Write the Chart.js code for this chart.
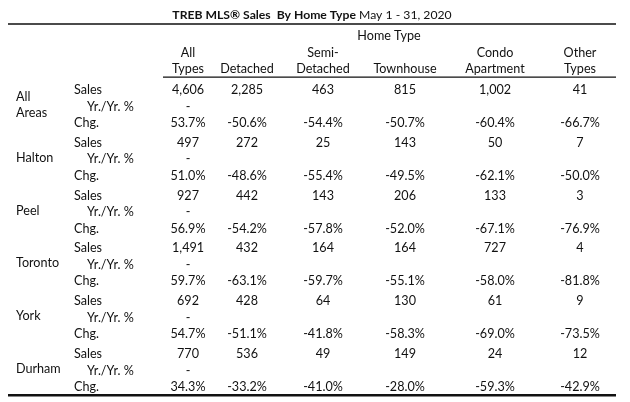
<!DOCTYPE html>
<html>
<head>
<meta charset="utf-8">
<script src="https://cdn.jsdelivr.net/npm/chart.js@4.4.0/dist/chart.umd.min.js"></script>
<style>
  html, body { margin: 0; padding: 0; background: #fff; }
  #wrap { width: 630px; height: 402px; }
</style>
</head>
<body>
<div id="wrap"><canvas id="myChart"></canvas></div>
<script>
// Table data
const regions = ["All Areas", "Halton", "Peel", "Toronto", "York", "Durham"];
const homeTypes = ["All Types", "Detached", "Semi-Detached", "Townhouse", "Condo Apartment", "Other Types"];
const headerTop = ["All", "", "Semi-", "", "Condo", "Other"];
const headerBottom = ["Types", "Detached", "Detached", "Townhouse", "Apartment", "Types"];
const rowLabels = ["Sales", "Yr./Yr. %", "Chg."];

const salesAllAreas = [4606, 2285, 463, 815, 1002, 41];
const salesHalton = [497, 272, 25, 143, 50, 7];
const salesPeel = [927, 442, 143, 206, 133, 3];
const salesToronto = [1491, 432, 164, 164, 727, 4];
const salesYork = [692, 428, 64, 130, 61, 9];
const salesDurham = [770, 536, 49, 149, 24, 12];

const chgAllAreas = [-53.7, -50.6, -54.4, -50.7, -60.4, -66.7];
const chgHalton = [-51.0, -48.6, -55.4, -49.5, -62.1, -50.0];
const chgPeel = [-56.9, -54.2, -57.8, -52.0, -67.1, -76.9];
const chgToronto = [-59.7, -63.1, -59.7, -55.1, -58.0, -81.8];
const chgYork = [-54.7, -51.1, -41.8, -58.3, -69.0, -73.5];
const chgDurham = [-34.3, -33.2, -41.0, -28.0, -59.3, -42.9];

const salesByRegion = [salesAllAreas, salesHalton, salesPeel, salesToronto, salesYork, salesDurham];
const chgByRegion = [chgAllAreas, chgHalton, chgPeel, chgToronto, chgYork, chgDurham];

// Layout (column centres in x units, row slots in y units)
const colX = [188, 247, 323, 405, 495, 580];
const regionStep = 3.2;
const FONT = "Lato, 'Open Sans', sans-serif";
const BODY_SIZE = "12.6px ";
const TITLE_SIZE = "12.2px ";
const INK = "#111";

function rowY(region, sub) {
  return region * regionStep + sub;
}

// Build the cell points from the arrays
const salesPoints = [];
const chgPoints = [];
const signPoints = [];
salesByRegion.forEach((vals, r) => {
  vals.forEach((v, c) => {
    salesPoints.push({ x: colX[c], y: rowY(r, 0), text: v.toLocaleString("en-US") });
  });
});
chgByRegion.forEach((vals, r) => {
  vals.forEach((v, c) => {
    if (c === 0) {
      // the minus sign wraps onto the Yr./Yr. line in the All Types column
      signPoints.push({ x: colX[c], y: rowY(r, 1), text: v < 0 ? "-" : "" });
      chgPoints.push({ x: colX[c], y: rowY(r, 2), text: Math.abs(v).toFixed(1) + "%" });
    } else {
      chgPoints.push({ x: colX[c], y: rowY(r, 2), text: v.toFixed(1) + "%" });
    }
  });
});

const tablePlugin = {
  id: "table_text",
  afterDatasetsDraw(chart) {
    const { ctx, scales } = chart;
    const X = (v) => scales.x.getPixelForValue(v);
    const Y = (v) => scales.y.getPixelForValue(v);
    ctx.save();
    ctx.fillStyle = INK;
    ctx.textBaseline = "middle";

    // cell values
    ctx.font = BODY_SIZE + FONT;
    ctx.textAlign = "center";
    chart.data.datasets.forEach((ds, i) => {
      const meta = chart.getDatasetMeta(i);
      meta.data.forEach((pt, j) => {
        ctx.fillText(ds.data[j].text, pt.x, pt.y);
      });
    });

    // headers
    ctx.fillText("Home Type", X(389), Y(-3.25));
    headerTop.forEach((t, c) => ctx.fillText(t, X(colX[c]), Y(-2.25)));
    headerBottom.forEach((t, c) => ctx.fillText(t, X(colX[c]), Y(-1.25)));

    // row labels
    ctx.textAlign = "left";
    regions.forEach((name, r) => {
      ctx.fillText(rowLabels[0], X(74), Y(rowY(r, 0)));
      ctx.fillText(rowLabels[1], X(87), Y(rowY(r, 1)));
      ctx.fillText(rowLabels[2], X(74), Y(rowY(r, 2)));
      const parts = name.split(" ");
      if (parts.length > 1) {
        ctx.fillText(parts[0], X(16), Y(rowY(r, 0.45)));
        ctx.fillText(parts[1], X(16), Y(rowY(r, 1.4)));
      } else {
        ctx.fillText(name, X(16), Y(rowY(r, 0.9)));
      }
    });

    // title: bold part + regular part, centred
    const boldPart = "TREB MLS\u00AE Sales  By Home Type";
    const normalPart = " May 1 - 31, 2020";
    ctx.font = "bold " + TITLE_SIZE + FONT;
    const wb = ctx.measureText(boldPart).width;
    ctx.font = TITLE_SIZE + FONT;
    const wn = ctx.measureText(normalPart).width;
    const x0 = X(312) - (wb + wn) / 2;
    ctx.font = "bold " + TITLE_SIZE + FONT;
    ctx.fillText(boldPart, x0, Y(-4.55));
    ctx.font = TITLE_SIZE + FONT;
    ctx.fillText(normalPart, x0 + wb, Y(-4.55));

    // rules
    ctx.strokeStyle = INK;
    ctx.lineWidth = 1.3;
    ctx.beginPath();
    ctx.moveTo(X(8), Y(-4.0));
    ctx.lineTo(X(616), Y(-4.0));
    ctx.moveTo(X(163), Y(-0.78));
    ctx.lineTo(X(616), Y(-0.78));
    ctx.stroke();
    ctx.lineWidth = 2.6;
    ctx.beginPath();
    ctx.moveTo(X(8), Y(18.5));
    ctx.lineTo(X(616), Y(18.5));
    ctx.stroke();
    ctx.restore();
  },
};

const chart = new Chart(document.getElementById("myChart"), {
  type: "scatter",
  data: {
    datasets: [
      { label: "Sales", data: salesPoints, pointRadius: 0 },
      { label: "Sign", data: signPoints, pointRadius: 0 },
      { label: "Chg", data: chgPoints, pointRadius: 0 },
    ],
  },
  options: {
    responsive: true,
    maintainAspectRatio: false,
    animation: false,
    layout: { padding: 0 },
    scales: {
      x: { type: "linear", display: false, min: 0, max: 630 },
      y: { type: "linear", display: false, reverse: true, min: -90 / 16.5, max: 312 / 16.5 },
    },
    plugins: {
      legend: { display: false },
      title: { display: false },
      tooltip: { enabled: false },
    },
    events: [],
  },
  plugins: [tablePlugin],
});
</script>
</body>
</html>
